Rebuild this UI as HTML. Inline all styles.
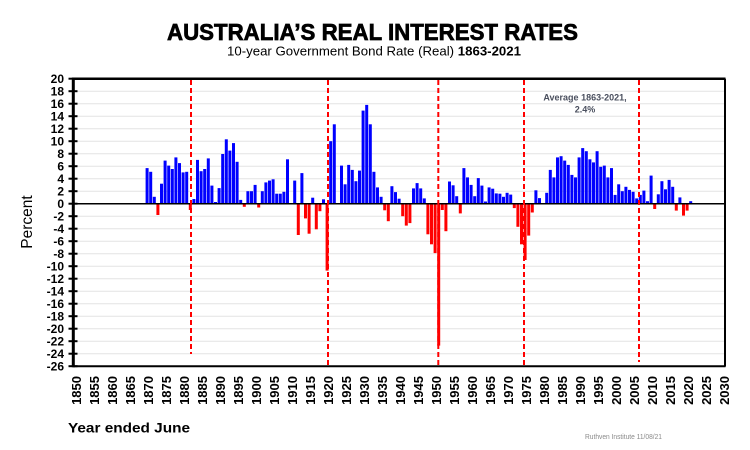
<!DOCTYPE html>
<html><head><meta charset="utf-8"><style>
html,body{margin:0;padding:0;background:#fff;}
svg{display:block;}
text{font-family:"Liberation Sans",Arial,sans-serif;}
</style></head><body>
<svg width="750" height="450" viewBox="0 0 750 450" xmlns="http://www.w3.org/2000/svg">
<rect width="750" height="450" fill="#fff"/>
<text x="372.5" y="40" text-anchor="middle" font-size="23" font-weight="bold" stroke="#000" stroke-width="0.7" textLength="411" lengthAdjust="spacingAndGlyphs">AUSTRALIA’S REAL INTEREST RATES</text>
<text x="227" y="55.7" font-size="12.5" textLength="294" lengthAdjust="spacingAndGlyphs">10-year Government Bond Rate (Real) <tspan font-weight="bold">1863-2021</tspan></text>
<g stroke="#e3e3e3" stroke-width="1">
<line x1="74" x2="725" y1="91.2" y2="91.2"/><line x1="74" x2="725" y1="103.7" y2="103.7"/><line x1="74" x2="725" y1="116.2" y2="116.2"/><line x1="74" x2="725" y1="128.7" y2="128.7"/><line x1="74" x2="725" y1="141.2" y2="141.2"/><line x1="74" x2="725" y1="153.7" y2="153.7"/><line x1="74" x2="725" y1="166.2" y2="166.2"/><line x1="74" x2="725" y1="178.7" y2="178.7"/><line x1="74" x2="725" y1="191.2" y2="191.2"/>
<line x1="74" x2="725" y1="216.2" y2="216.2"/><line x1="74" x2="725" y1="228.7" y2="228.7"/><line x1="74" x2="725" y1="241.2" y2="241.2"/><line x1="74" x2="725" y1="253.7" y2="253.7"/><line x1="74" x2="725" y1="266.2" y2="266.2"/><line x1="74" x2="725" y1="278.7" y2="278.7"/><line x1="74" x2="725" y1="291.2" y2="291.2"/><line x1="74" x2="725" y1="303.7" y2="303.7"/><line x1="74" x2="725" y1="316.2" y2="316.2"/><line x1="74" x2="725" y1="328.7" y2="328.7"/><line x1="74" x2="725" y1="341.2" y2="341.2"/><line x1="74" x2="725" y1="353.7" y2="353.7"/>
</g>
<g fill="#0000ff">
<rect x="145.6" y="168.1" width="3" height="35.6"/><rect x="149.2" y="171.8" width="3" height="31.9"/><rect x="152.8" y="196.8" width="3" height="6.9"/><rect x="160.0" y="183.7" width="3" height="20"/><rect x="163.6" y="160.6" width="3" height="43.1"/><rect x="167.2" y="165.6" width="3" height="38.1"/><rect x="170.8" y="169.0" width="3" height="34.7"/><rect x="174.4" y="157.4" width="3" height="46.3"/><rect x="178.0" y="163.1" width="3" height="40.6"/><rect x="181.6" y="172.4" width="3" height="31.3"/><rect x="185.2" y="171.8" width="3" height="31.9"/>
<rect x="192.4" y="199.0" width="3" height="4.7"/><rect x="196.0" y="159.9" width="3" height="43.8"/><rect x="199.6" y="171.2" width="3" height="32.5"/><rect x="203.2" y="169.0" width="3" height="34.7"/><rect x="206.8" y="158.4" width="3" height="45.3"/><rect x="210.4" y="185.6" width="3" height="18.1"/><rect x="214.0" y="202.0" width="3" height="1.7"/><rect x="217.6" y="188.1" width="3" height="15.6"/><rect x="221.2" y="154.0" width="3" height="49.7"/><rect x="224.8" y="139.3" width="3" height="64.4"/><rect x="228.4" y="150.6" width="3" height="53.1"/><rect x="232.0" y="143.1" width="3" height="60.6"/><rect x="235.6" y="161.8" width="3" height="41.9"/><rect x="239.2" y="199.9" width="3" height="3.8"/>
<rect x="246.4" y="191.2" width="3" height="12.5"/><rect x="250.0" y="191.2" width="3" height="12.5"/><rect x="253.6" y="184.9" width="3" height="18.8"/><rect x="260.8" y="191.2" width="3" height="12.5"/><rect x="264.4" y="182.4" width="3" height="21.3"/><rect x="268.0" y="180.6" width="3" height="23.1"/><rect x="271.6" y="179.3" width="3" height="24.4"/><rect x="275.2" y="193.7" width="3" height="10"/><rect x="278.8" y="193.7" width="3" height="10"/><rect x="282.4" y="191.8" width="3" height="11.9"/><rect x="286.0" y="159.3" width="3" height="44.4"/><rect x="293.2" y="180.6" width="3" height="23.1"/><rect x="300.4" y="173.1" width="3" height="30.6"/><rect x="311.2" y="197.7" width="3" height="6"/><rect x="322.0" y="199.3" width="3" height="4.4"/>
<rect x="329.2" y="141.2" width="3" height="62.5"/><rect x="332.8" y="124.3" width="3" height="79.4"/><rect x="340.0" y="165.6" width="3" height="38.1"/><rect x="343.6" y="184.3" width="3" height="19.4"/><rect x="347.2" y="164.9" width="3" height="38.8"/><rect x="350.8" y="169.9" width="3" height="33.8"/><rect x="354.4" y="181.2" width="3" height="22.5"/><rect x="358.0" y="170.6" width="3" height="33.1"/><rect x="361.6" y="110.6" width="3" height="93.1"/><rect x="365.2" y="104.9" width="3" height="98.8"/><rect x="368.8" y="124.3" width="3" height="79.4"/><rect x="372.4" y="171.8" width="3" height="31.9"/><rect x="376.0" y="187.4" width="3" height="16.3"/><rect x="379.6" y="196.8" width="3" height="6.9"/>
<rect x="390.4" y="186.2" width="3" height="17.5"/><rect x="394.0" y="192.1" width="3" height="11.6"/><rect x="397.6" y="198.7" width="3" height="5"/><rect x="412.0" y="188.4" width="3" height="15.3"/><rect x="415.6" y="183.1" width="3" height="20.6"/><rect x="419.2" y="188.4" width="3" height="15.3"/><rect x="422.8" y="198.4" width="3" height="5.3"/>
<rect x="448.0" y="181.5" width="3" height="22.2"/><rect x="451.6" y="185.3" width="3" height="18.4"/><rect x="455.2" y="196.2" width="3" height="7.5"/><rect x="462.4" y="168.1" width="3" height="35.6"/><rect x="466.0" y="177.4" width="3" height="26.3"/><rect x="469.6" y="184.9" width="3" height="18.8"/><rect x="473.2" y="196.2" width="3" height="7.5"/><rect x="476.8" y="178.1" width="3" height="25.6"/><rect x="480.4" y="185.6" width="3" height="18.1"/><rect x="484.0" y="201.5" width="3" height="2.2"/><rect x="487.6" y="187.4" width="3" height="16.3"/><rect x="491.2" y="188.7" width="3" height="15"/><rect x="494.8" y="193.4" width="3" height="10.3"/><rect x="498.4" y="193.7" width="3" height="10"/><rect x="502.0" y="196.8" width="3" height="6.9"/><rect x="505.6" y="192.8" width="3" height="10.9"/><rect x="509.2" y="194.6" width="3" height="9.1"/>
<rect x="534.4" y="190.3" width="3" height="13.4"/><rect x="538.0" y="198.1" width="3" height="5.6"/><rect x="545.2" y="192.8" width="3" height="10.9"/><rect x="548.8" y="169.9" width="3" height="33.8"/><rect x="552.4" y="177.4" width="3" height="26.3"/><rect x="556.0" y="157.4" width="3" height="46.3"/><rect x="559.6" y="156.2" width="3" height="47.5"/><rect x="563.2" y="160.6" width="3" height="43.1"/><rect x="566.8" y="164.9" width="3" height="38.8"/><rect x="570.4" y="174.9" width="3" height="28.8"/><rect x="574.0" y="177.4" width="3" height="26.3"/><rect x="577.6" y="157.4" width="3" height="46.3"/><rect x="581.2" y="148.1" width="3" height="55.6"/><rect x="584.8" y="151.2" width="3" height="52.5"/><rect x="588.4" y="159.3" width="3" height="44.4"/><rect x="592.0" y="162.4" width="3" height="41.3"/><rect x="595.6" y="151.2" width="3" height="52.5"/><rect x="599.2" y="166.8" width="3" height="36.9"/><rect x="602.8" y="165.6" width="3" height="38.1"/><rect x="606.4" y="177.4" width="3" height="26.3"/><rect x="610.0" y="168.1" width="3" height="35.6"/><rect x="613.6" y="194.9" width="3" height="8.8"/><rect x="617.2" y="184.3" width="3" height="19.4"/><rect x="620.8" y="191.2" width="3" height="12.5"/><rect x="624.4" y="186.8" width="3" height="16.9"/><rect x="628.0" y="189.9" width="3" height="13.8"/><rect x="631.6" y="191.8" width="3" height="11.9"/><rect x="635.2" y="198.4" width="3" height="5.3"/><rect x="638.8" y="194.9" width="3" height="8.8"/><rect x="642.4" y="190.6" width="3" height="13.1"/><rect x="646.0" y="201.2" width="3" height="2.5"/><rect x="649.6" y="175.6" width="3" height="28.1"/><rect x="656.8" y="194.3" width="3" height="9.4"/><rect x="660.4" y="181.2" width="3" height="22.5"/><rect x="664.0" y="189.3" width="3" height="14.4"/><rect x="667.6" y="179.9" width="3" height="23.8"/><rect x="671.2" y="186.8" width="3" height="16.9"/><rect x="678.4" y="197.4" width="3" height="6.3"/><rect x="689.2" y="201.2" width="3" height="2.5"/>
</g>
<g fill="#ff0000">
<rect x="156.4" y="203.7" width="3" height="11.3"/><rect x="188.8" y="203.7" width="3" height="6.3"/><rect x="242.8" y="203.7" width="3" height="3.1"/><rect x="257.2" y="203.7" width="3" height="3.8"/><rect x="296.8" y="203.7" width="3" height="31.3"/><rect x="304.0" y="203.7" width="3" height="14.7"/><rect x="307.6" y="203.7" width="3" height="30"/><rect x="314.8" y="203.7" width="3" height="25.6"/><rect x="318.4" y="203.7" width="3" height="7.5"/><rect x="325.6" y="203.7" width="3" height="66.9"/>
<rect x="383.2" y="203.7" width="3" height="6.6"/><rect x="386.8" y="203.7" width="3" height="17.5"/><rect x="401.2" y="203.7" width="3" height="12.5"/><rect x="404.8" y="203.7" width="3" height="21.9"/><rect x="408.4" y="203.7" width="3" height="19.4"/><rect x="426.4" y="203.7" width="3" height="30.6"/><rect x="430.0" y="203.7" width="3" height="40.6"/><rect x="433.6" y="203.7" width="3" height="49.4"/><rect x="437.2" y="203.7" width="3" height="141.9"/><rect x="440.8" y="203.7" width="3" height="6.3"/><rect x="444.4" y="203.7" width="3" height="27.5"/><rect x="458.8" y="203.7" width="3" height="9.7"/>
<rect x="512.8" y="203.7" width="3" height="4.4"/><rect x="516.4" y="203.7" width="3" height="23.1"/><rect x="520.0" y="203.7" width="3" height="40.6"/><rect x="523.6" y="203.7" width="3" height="56.3"/><rect x="527.2" y="203.7" width="3" height="31.9"/><rect x="530.8" y="203.7" width="3" height="8.8"/><rect x="653.2" y="203.7" width="3" height="5.3"/><rect x="674.8" y="203.7" width="3" height="6.9"/><rect x="682.0" y="203.7" width="3" height="11.9"/><rect x="685.6" y="203.7" width="3" height="6.9"/>
</g>
<line x1="74" x2="725" y1="203.7" y2="203.7" stroke="#000" stroke-width="1.5"/>
<g stroke="#ff0000" stroke-width="2" stroke-dasharray="5,3">
<line x1="191" x2="191" y1="80" y2="354"/><line x1="328" x2="328" y1="80" y2="366"/><line x1="438.3" x2="438.3" y1="80" y2="366"/><line x1="524" x2="524" y1="80" y2="366"/><line x1="639" x2="639" y1="80" y2="362"/>
</g>
<g stroke="#000">
<line x1="73.3" x2="725.5" y1="78.7" y2="78.7" stroke-width="2.5"/>
<line x1="725" x2="725" y1="78.7" y2="366.5" stroke-width="2"/>
<line x1="73.3" x2="725.5" y1="366.3" y2="366.3" stroke-width="2"/>
<line x1="73.3" x2="73.3" y1="77.5" y2="367.3" stroke-width="3"/>
</g>
<g stroke="#000" stroke-width="2">
<line x1="68.5" x2="77.5" y1="78.7" y2="78.7"/><line x1="68.5" x2="77.5" y1="91.2" y2="91.2"/><line x1="68.5" x2="77.5" y1="103.7" y2="103.7"/><line x1="68.5" x2="77.5" y1="116.2" y2="116.2"/><line x1="68.5" x2="77.5" y1="128.7" y2="128.7"/><line x1="68.5" x2="77.5" y1="141.2" y2="141.2"/><line x1="68.5" x2="77.5" y1="153.7" y2="153.7"/><line x1="68.5" x2="77.5" y1="166.2" y2="166.2"/><line x1="68.5" x2="77.5" y1="178.7" y2="178.7"/><line x1="68.5" x2="77.5" y1="191.2" y2="191.2"/><line x1="68.5" x2="77.5" y1="203.7" y2="203.7"/><line x1="68.5" x2="77.5" y1="216.2" y2="216.2"/><line x1="68.5" x2="77.5" y1="228.7" y2="228.7"/><line x1="68.5" x2="77.5" y1="241.2" y2="241.2"/><line x1="68.5" x2="77.5" y1="253.7" y2="253.7"/><line x1="68.5" x2="77.5" y1="266.2" y2="266.2"/><line x1="68.5" x2="77.5" y1="278.7" y2="278.7"/><line x1="68.5" x2="77.5" y1="291.2" y2="291.2"/><line x1="68.5" x2="77.5" y1="303.7" y2="303.7"/><line x1="68.5" x2="77.5" y1="316.2" y2="316.2"/><line x1="68.5" x2="77.5" y1="328.7" y2="328.7"/><line x1="68.5" x2="77.5" y1="341.2" y2="341.2"/><line x1="68.5" x2="77.5" y1="353.7" y2="353.7"/><line x1="68.5" x2="77.5" y1="366.2" y2="366.2"/>
</g>
<g font-size="12" font-weight="bold" text-anchor="end" fill="#000">
<text x="64" y="83">20</text><text x="64" y="95.5">18</text><text x="64" y="108">16</text><text x="64" y="120.5">14</text><text x="64" y="133">12</text><text x="64" y="145.5">10</text><text x="64" y="158">8</text><text x="64" y="170.5">6</text><text x="64" y="183">4</text><text x="64" y="195.5">2</text><text x="64" y="208">0</text><text x="64" y="220.5">-2</text><text x="64" y="233">-4</text><text x="64" y="245.5">-6</text><text x="64" y="258">-8</text><text x="64" y="270.5">-10</text><text x="64" y="283">-12</text><text x="64" y="295.5">-14</text><text x="64" y="308">-16</text><text x="64" y="320.5">-18</text><text x="64" y="333">-20</text><text x="64" y="345.5">-22</text><text x="64" y="358">-24</text><text x="64" y="370.5">-26</text>
</g>
<g font-size="13" font-weight="bold" text-anchor="end" fill="#000">
<text transform="translate(80.8,376) rotate(-90)">1850</text><text transform="translate(98.8,376) rotate(-90)">1855</text><text transform="translate(116.8,376) rotate(-90)">1860</text><text transform="translate(134.8,376) rotate(-90)">1865</text><text transform="translate(152.8,376) rotate(-90)">1870</text><text transform="translate(170.8,376) rotate(-90)">1875</text><text transform="translate(188.8,376) rotate(-90)">1880</text><text transform="translate(206.8,376) rotate(-90)">1885</text><text transform="translate(224.8,376) rotate(-90)">1890</text><text transform="translate(242.8,376) rotate(-90)">1895</text><text transform="translate(260.8,376) rotate(-90)">1900</text><text transform="translate(278.8,376) rotate(-90)">1905</text><text transform="translate(296.8,376) rotate(-90)">1910</text><text transform="translate(314.8,376) rotate(-90)">1915</text><text transform="translate(332.8,376) rotate(-90)">1920</text><text transform="translate(350.8,376) rotate(-90)">1925</text><text transform="translate(368.8,376) rotate(-90)">1930</text><text transform="translate(386.8,376) rotate(-90)">1935</text><text transform="translate(404.8,376) rotate(-90)">1940</text><text transform="translate(422.8,376) rotate(-90)">1945</text><text transform="translate(440.8,376) rotate(-90)">1950</text><text transform="translate(458.8,376) rotate(-90)">1955</text><text transform="translate(476.8,376) rotate(-90)">1960</text><text transform="translate(494.8,376) rotate(-90)">1965</text><text transform="translate(512.8,376) rotate(-90)">1970</text><text transform="translate(530.8,376) rotate(-90)">1975</text><text transform="translate(548.8,376) rotate(-90)">1980</text><text transform="translate(566.8,376) rotate(-90)">1985</text><text transform="translate(584.8,376) rotate(-90)">1990</text><text transform="translate(602.8,376) rotate(-90)">1995</text><text transform="translate(620.8,376) rotate(-90)">2000</text><text transform="translate(638.8,376) rotate(-90)">2005</text><text transform="translate(656.8,376) rotate(-90)">2010</text><text transform="translate(674.8,376) rotate(-90)">2015</text><text transform="translate(692.8,376) rotate(-90)">2020</text><text transform="translate(710.8,376) rotate(-90)">2025</text><text transform="translate(728.8,376) rotate(-90)">2030</text>
</g>
<text transform="translate(32,222) rotate(-90)" text-anchor="middle" font-size="15.5" fill="#000">Percent</text>
<text x="68" y="432.5" font-size="14" font-weight="bold" textLength="122" lengthAdjust="spacingAndGlyphs">Year ended June</text>
<text x="585" y="439" font-size="7" fill="#8a8a8a" textLength="77" lengthAdjust="spacingAndGlyphs">Ruthven Institute 11/08/21</text>
<g font-size="9" font-weight="bold" fill="#4a4f5e" text-anchor="middle">
<text x="585" y="100.5">Average 1863-2021,</text>
<text x="585" y="112.5">2.4%</text>
</g>
</svg>
</body></html>
